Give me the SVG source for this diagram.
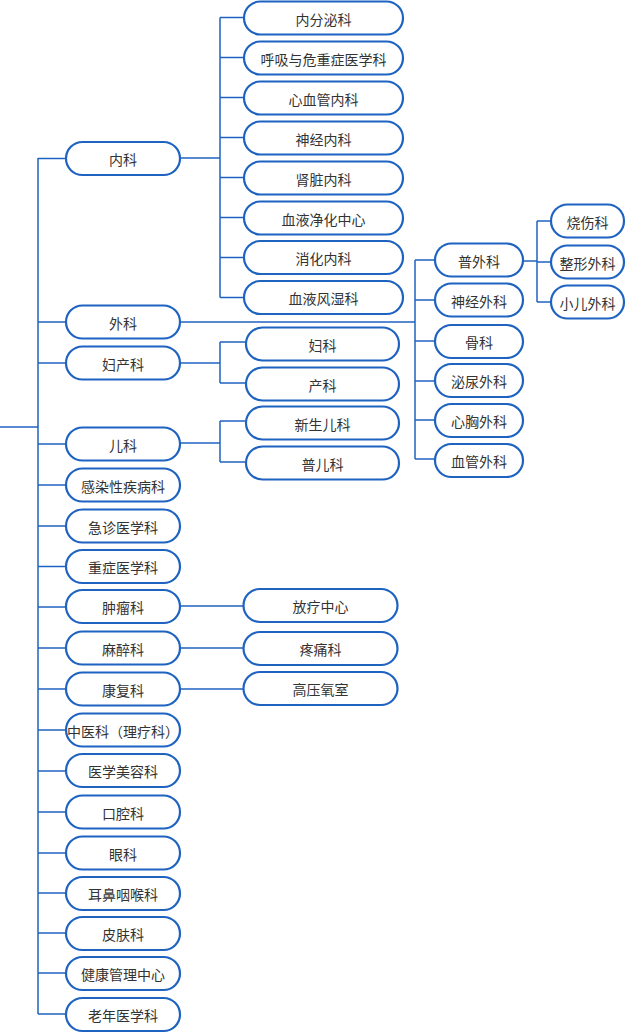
<svg xmlns="http://www.w3.org/2000/svg" width="627" height="1033" viewBox="0 0 627 1033">
<style>
.n rect{fill:#fff;stroke:#1f63c1;stroke-width:2.2}
.n text{font-family:"Noto Sans CJK SC","Microsoft YaHei",sans-serif;font-size:14px;fill:#333;text-anchor:middle;transform:translateY(1.5px)}
#connectors path{fill:none;stroke:#1f63c1;stroke-width:1.5}
</style>
<rect width="627" height="1033" fill="#fff"/>
<g id="connectors">
<path d="M0 427H38M38 158V1014"/>
<path d="M38 158.5H66M38 322H66M38 363H66M38 444H66M38 485H66M38 526H66M38 566.5H66M38 607H66M38 648H66M38 689H66M38 730H66M38 771H66M38 812H66M38 853H66M38 893H66M38 933H66M38 973H66M38 1014H66"/>
<path d="M180 158H220M220 17.5V297.5M220 17.5H244M220 57.5H244M220 97.5H244M220 137.5H244M220 177.5H244M220 217.5H244M220 257.5H244M220 297.5H244"/>
<path d="M180 322H415M415 260V459M415 260H435M415 300H435M415 341H435M415 381H435M415 420H435M415 459H435"/>
<path d="M523 261H537M537 221V302M537 221H551M537 262H551M537 302H551"/>
<path d="M180 363H220M220 342V383M220 342H246M220 383H246"/>
<path d="M180 443H220M220 421V462M220 421H246M220 462H246"/>
<path d="M180 606H243M180 648H243M180 689H243"/>
</g>
<g id="n-root-neike" class="n"><rect x="66" y="142" width="114" height="33" rx="16.5"/><text x="123" y="163.5">内科</text></g>
<g id="n-waike" class="n"><rect x="66" y="305.5" width="114" height="33" rx="16.5"/><text x="123" y="327">外科</text></g>
<g id="n-fuchanke" class="n"><rect x="66" y="346.5" width="114" height="33" rx="16.5"/><text x="123" y="368">妇产科</text></g>
<g id="n-erke" class="n"><rect x="66" y="427.5" width="114" height="33" rx="16.5"/><text x="123" y="449">儿科</text></g>
<g id="n-ganran" class="n"><rect x="66" y="468.5" width="114" height="33" rx="16.5"/><text x="123" y="490">感染性疾病科</text></g>
<g id="n-jizhen" class="n"><rect x="66" y="509.5" width="114" height="33" rx="16.5"/><text x="123" y="531">急诊医学科</text></g>
<g id="n-zhongzheng" class="n"><rect x="66" y="550" width="114" height="33" rx="16.5"/><text x="123" y="571.5">重症医学科</text></g>
<g id="n-zhongliu" class="n"><rect x="66" y="590" width="114" height="33" rx="16.5"/><text x="123" y="611.5">肿瘤科</text></g>
<g id="n-mazui" class="n"><rect x="66" y="631.5" width="114" height="33" rx="16.5"/><text x="123" y="653">麻醉科</text></g>
<g id="n-kangfu" class="n"><rect x="66" y="672.5" width="114" height="33" rx="16.5"/><text x="123" y="694">康复科</text></g>
<g id="n-zhongyi" class="n"><rect x="66" y="713.5" width="114" height="33" rx="16.5"/><text x="123" y="735">中医科（理疗科）</text></g>
<g id="n-meirong" class="n"><rect x="66" y="754" width="114" height="33" rx="16.5"/><text x="123" y="775.5">医学美容科</text></g>
<g id="n-kouqiang" class="n"><rect x="66" y="795.5" width="114" height="33" rx="16.5"/><text x="123" y="817">口腔科</text></g>
<g id="n-yanke" class="n"><rect x="66" y="836.5" width="114" height="33" rx="16.5"/><text x="123" y="858">眼科</text></g>
<g id="n-erbi" class="n"><rect x="66" y="877" width="114" height="33" rx="16.5"/><text x="123" y="898.5">耳鼻咽喉科</text></g>
<g id="n-pifu" class="n"><rect x="66" y="917" width="114" height="33" rx="16.5"/><text x="123" y="938.5">皮肤科</text></g>
<g id="n-jiankang" class="n"><rect x="66" y="957" width="114" height="33" rx="16.5"/><text x="123" y="978.5">健康管理中心</text></g>
<g id="n-laonian" class="n"><rect x="66" y="998" width="114" height="33" rx="16.5"/><text x="123" y="1019.5">老年医学科</text></g>
<g id="n-neifenmi" class="n"><rect x="244" y="1.5" width="159" height="33" rx="16.5"/><text x="323.5" y="23">内分泌科</text></g>
<g id="n-huxi" class="n"><rect x="244" y="41.5" width="159" height="33" rx="16.5"/><text x="323.5" y="63">呼吸与危重症医学科</text></g>
<g id="n-xinxueguan" class="n"><rect x="244" y="81.5" width="159" height="33" rx="16.5"/><text x="323.5" y="103">心血管内科</text></g>
<g id="n-shenjingnei" class="n"><rect x="244" y="121.5" width="159" height="33" rx="16.5"/><text x="323.5" y="143">神经内科</text></g>
<g id="n-shenzang" class="n"><rect x="244" y="161.5" width="159" height="33" rx="16.5"/><text x="323.5" y="183">肾脏内科</text></g>
<g id="n-jinghua" class="n"><rect x="244" y="201.5" width="159" height="33" rx="16.5"/><text x="323.5" y="223">血液净化中心</text></g>
<g id="n-xiaohua" class="n"><rect x="244" y="241" width="159" height="33" rx="16.5"/><text x="323.5" y="262.5">消化内科</text></g>
<g id="n-fengshi" class="n"><rect x="244" y="281" width="159" height="33" rx="16.5"/><text x="323.5" y="302.5">血液风湿科</text></g>
<g id="n-puwai" class="n"><rect x="435" y="243.5" width="88" height="33" rx="16.5"/><text x="479" y="265">普外科</text></g>
<g id="n-shenjingwai" class="n"><rect x="435" y="283.5" width="88" height="33" rx="16.5"/><text x="479" y="305">神经外科</text></g>
<g id="n-guke" class="n"><rect x="435" y="325" width="88" height="33" rx="16.5"/><text x="479" y="346.5">骨科</text></g>
<g id="n-miniao" class="n"><rect x="435" y="364" width="88" height="33" rx="16.5"/><text x="479" y="385.5">泌尿外科</text></g>
<g id="n-xinxiong" class="n"><rect x="435" y="404" width="88" height="33" rx="16.5"/><text x="479" y="425.5">心胸外科</text></g>
<g id="n-xueguan" class="n"><rect x="435" y="444" width="88" height="33" rx="16.5"/><text x="479" y="465.5">血管外科</text></g>
<g id="n-shaoshang" class="n"><rect x="551" y="204.5" width="73" height="33" rx="16.5"/><text x="587.5" y="226">烧伤科</text></g>
<g id="n-zhengxing" class="n"><rect x="551" y="245.5" width="73" height="33" rx="16.5"/><text x="587.5" y="267">整形外科</text></g>
<g id="n-xiaoer" class="n"><rect x="551" y="285.5" width="73" height="33" rx="16.5"/><text x="587.5" y="307">小儿外科</text></g>
<g id="n-fuke" class="n"><rect x="246" y="327.5" width="153" height="33" rx="16.5"/><text x="322.5" y="349">妇科</text></g>
<g id="n-chanke" class="n"><rect x="246" y="367.5" width="153" height="33" rx="16.5"/><text x="322.5" y="389">产科</text></g>
<g id="n-xinsheng" class="n"><rect x="246" y="406.5" width="153" height="33" rx="16.5"/><text x="322.5" y="428">新生儿科</text></g>
<g id="n-puer" class="n"><rect x="246" y="446.5" width="153" height="33" rx="16.5"/><text x="322.5" y="468">普儿科</text></g>
<g id="n-fangliao" class="n"><rect x="243.5" y="589" width="154" height="33" rx="16.5"/><text x="320.5" y="610.5">放疗中心</text></g>
<g id="n-tengtong" class="n"><rect x="243.5" y="632" width="154" height="33" rx="16.5"/><text x="320.5" y="653.5">疼痛科</text></g>
<g id="n-gaoya" class="n"><rect x="243.5" y="672" width="154" height="33" rx="16.5"/><text x="320.5" y="693.5">高压氧室</text></g>
</svg>
